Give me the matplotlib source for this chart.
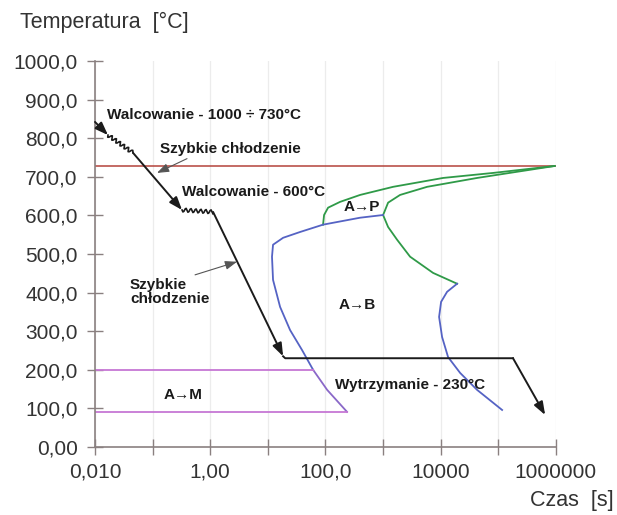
import numpy as np
import matplotlib.pyplot as plt

plt.rcParams['font.family'] = ['Liberation Sans', 'DejaVu Sans']

# linia A1
a1_temp = 728

# krzywe przemiany perlitycznej (początek i koniec)
ps_t = [9.5e5, 81280, 11010, 1493, 399, 179, 111, 94.6, 90.8]
ps_T = [728, 710, 697, 674, 653, 635, 620, 601, 576]
pf_t = [9.5e5, 42850, 5810, 1972, 1222, 1040, 1000, 1222, 1750, 2944, 7380, 19270]
pf_T = [728, 697, 674, 653, 633, 607, 601, 570, 537, 493, 451, 423]

# krzywe przemiany bainitycznej
bs_t = [1000, 399, 90.8, 36.2, 18.4, 12.3, 11.8, 12.3, 16.3, 24.3, 39.3, 61]
bs_T = [601, 594, 576, 557, 542, 524, 493, 433, 363, 303, 251, 200]
bs_low_t = [61, 107, 237]
bs_low_T = [200, 148, 91]
bf_t = [19270, 12900, 10160, 9380, 10570, 13430, 21730, 42850, 116400]
bf_T = [423, 402, 376, 337, 285, 233, 192, 148, 96]

# Ms i Mf
ms_T, ms_t = 200, 61
mf_T, mf_t = 91, 237

# przebieg obróbki cieplno-plastycznej
path_t = [0.01, 0.0168, 0.0457, 0.324, 1.12, 18.4, 20, 180000, 650000]
path_T = [842, 808, 762, 614, 609, 235, 230, 230, 83]

y_ticks = [0, 100, 200, 300, 400, 500, 600, 700, 800, 900, 1000]
y_labels = ['0,00', '100,0', '200,0', '300,0', '400,0', '500,0',
            '600,0', '700,0', '800,0', '900,0', '1000,0']
x_ticks = [1e-2, 1e-1, 1, 10, 100, 1e3, 1e4, 1e5, 1e6]
x_labels = ['0,010', '', '1,00', '', '100,0', '', '10000', '', '1000000']

fig = plt.figure(figsize=(6.17, 5.15), dpi=100)
ax = fig.add_axes([0.154, 0.132, 0.747, 0.7496])
ax.set_xscale('log')
ax.set_xlim(1e-2, 1e6)
ax.set_ylim(0, 1000)

ax.grid(axis='x', color='#ececec', lw=0.9)
ax.set_axisbelow(True)

red = '#b4433b'
green = '#2f9a48'
blue = '#5563c4'
mag = '#c677d4'
violet = '#8a68c8'
blk = '#1b1b1b'

line = dict(lw=1.3, solid_joinstyle='round')
ax.plot([1e-2, 1e6], [a1_temp, a1_temp], color=red, lw=1.1)
ax.plot(ps_t, ps_T, color=green, **line)
ax.plot(pf_t, pf_T, color=green, **line)
ax.plot(bs_t, bs_T, color=blue, **line)
ax.plot(bs_low_t, bs_low_T, color=violet, **line)
ax.plot(bf_t, bf_T, color=blue, **line)
ax.plot([1e-2, ms_t], [ms_T, ms_T], color=mag, lw=1.3)
ax.plot([1e-2, mf_t], [mf_T, mf_T], color=mag, lw=1.3)

# odcinki ze strzałkami
arrow = dict(arrowstyle='-|>,head_length=0.6,head_width=0.22', color=blk,
             lw=1.4, mutation_scale=13, shrinkA=0, shrinkB=0)
for i in [0, 2, 4, 7]:
    ax.annotate('', xy=(path_t[i + 1], path_T[i + 1]),
                xytext=(path_t[i], path_T[i]), arrowprops=arrow)
ax.plot(path_t[5:8], path_T[5:8], color=blk, lw=1.4)

# walcowanie - linie falowane
for i in [1, 3]:
    w, = ax.plot(path_t[i:i + 2], path_T[i:i + 2], color=blk, lw=1.2)
    w.set_sketch_params(scale=2.0, length=5.0, randomness=1.0)

txt = dict(fontsize=11, fontweight='bold', color='#1a1a1a')
ax.text(0.0162, 861, 'Walcowanie - 1000 ÷ 730°C', va='center', **txt)
ax.text(0.134, 773, 'Szybkie chłodzenie', va='center', **txt)
ax.text(0.324, 661, 'Walcowanie - 600°C', va='center', **txt)
ax.text(0.0406, 402, 'Szybkie\nchłodzenie', va='center', linespacing=1.0, **txt)
ax.text(147, 161, 'Wytrzymanie - 230°C', va='center', **txt)
ax.text(431, 622, 'A→P', ha='center', va='center', **txt)
ax.text(354, 368, 'A→B', ha='center', va='center', **txt)
ax.text(0.337, 135, 'A→M', ha='center', va='center', **txt)

note = dict(arrowstyle='-|>,head_length=0.6,head_width=0.22', color='#555555',
            lw=0.8, mutation_scale=12, shrinkA=0, shrinkB=0)
ax.annotate('', xy=(0.119, 710), xytext=(0.395, 747), arrowprops=note)
ax.annotate('', xy=(2.92, 480), xytext=(0.545, 446), arrowprops=note)

for s in ['top', 'right']:
    ax.spines[s].set_visible(False)
for s in ['left', 'bottom']:
    ax.spines[s].set_color('#8a8080')
    ax.spines[s].set_linewidth(1.2)

ax.set_yticks(y_ticks)
ax.set_yticklabels(y_labels)
ax.set_xticks(x_ticks)
ax.set_xticklabels(x_labels)
ax.minorticks_off()
ax.tick_params(direction='inout', length=11, width=1.0, color='#8a8080',
               labelsize=15, labelcolor='#333333')
ax.tick_params(axis='y', pad=7)
ax.tick_params(axis='x', pad=6)

fig.text(0.032, 0.957, 'Temperatura  [°C]', fontsize=15.5, color='#333333',
         va='center')
fig.text(0.859, 0.029, 'Czas  [s]', fontsize=15.5, color='#333333', va='center')

fig.savefig('out.png', dpi=100, facecolor='white')
